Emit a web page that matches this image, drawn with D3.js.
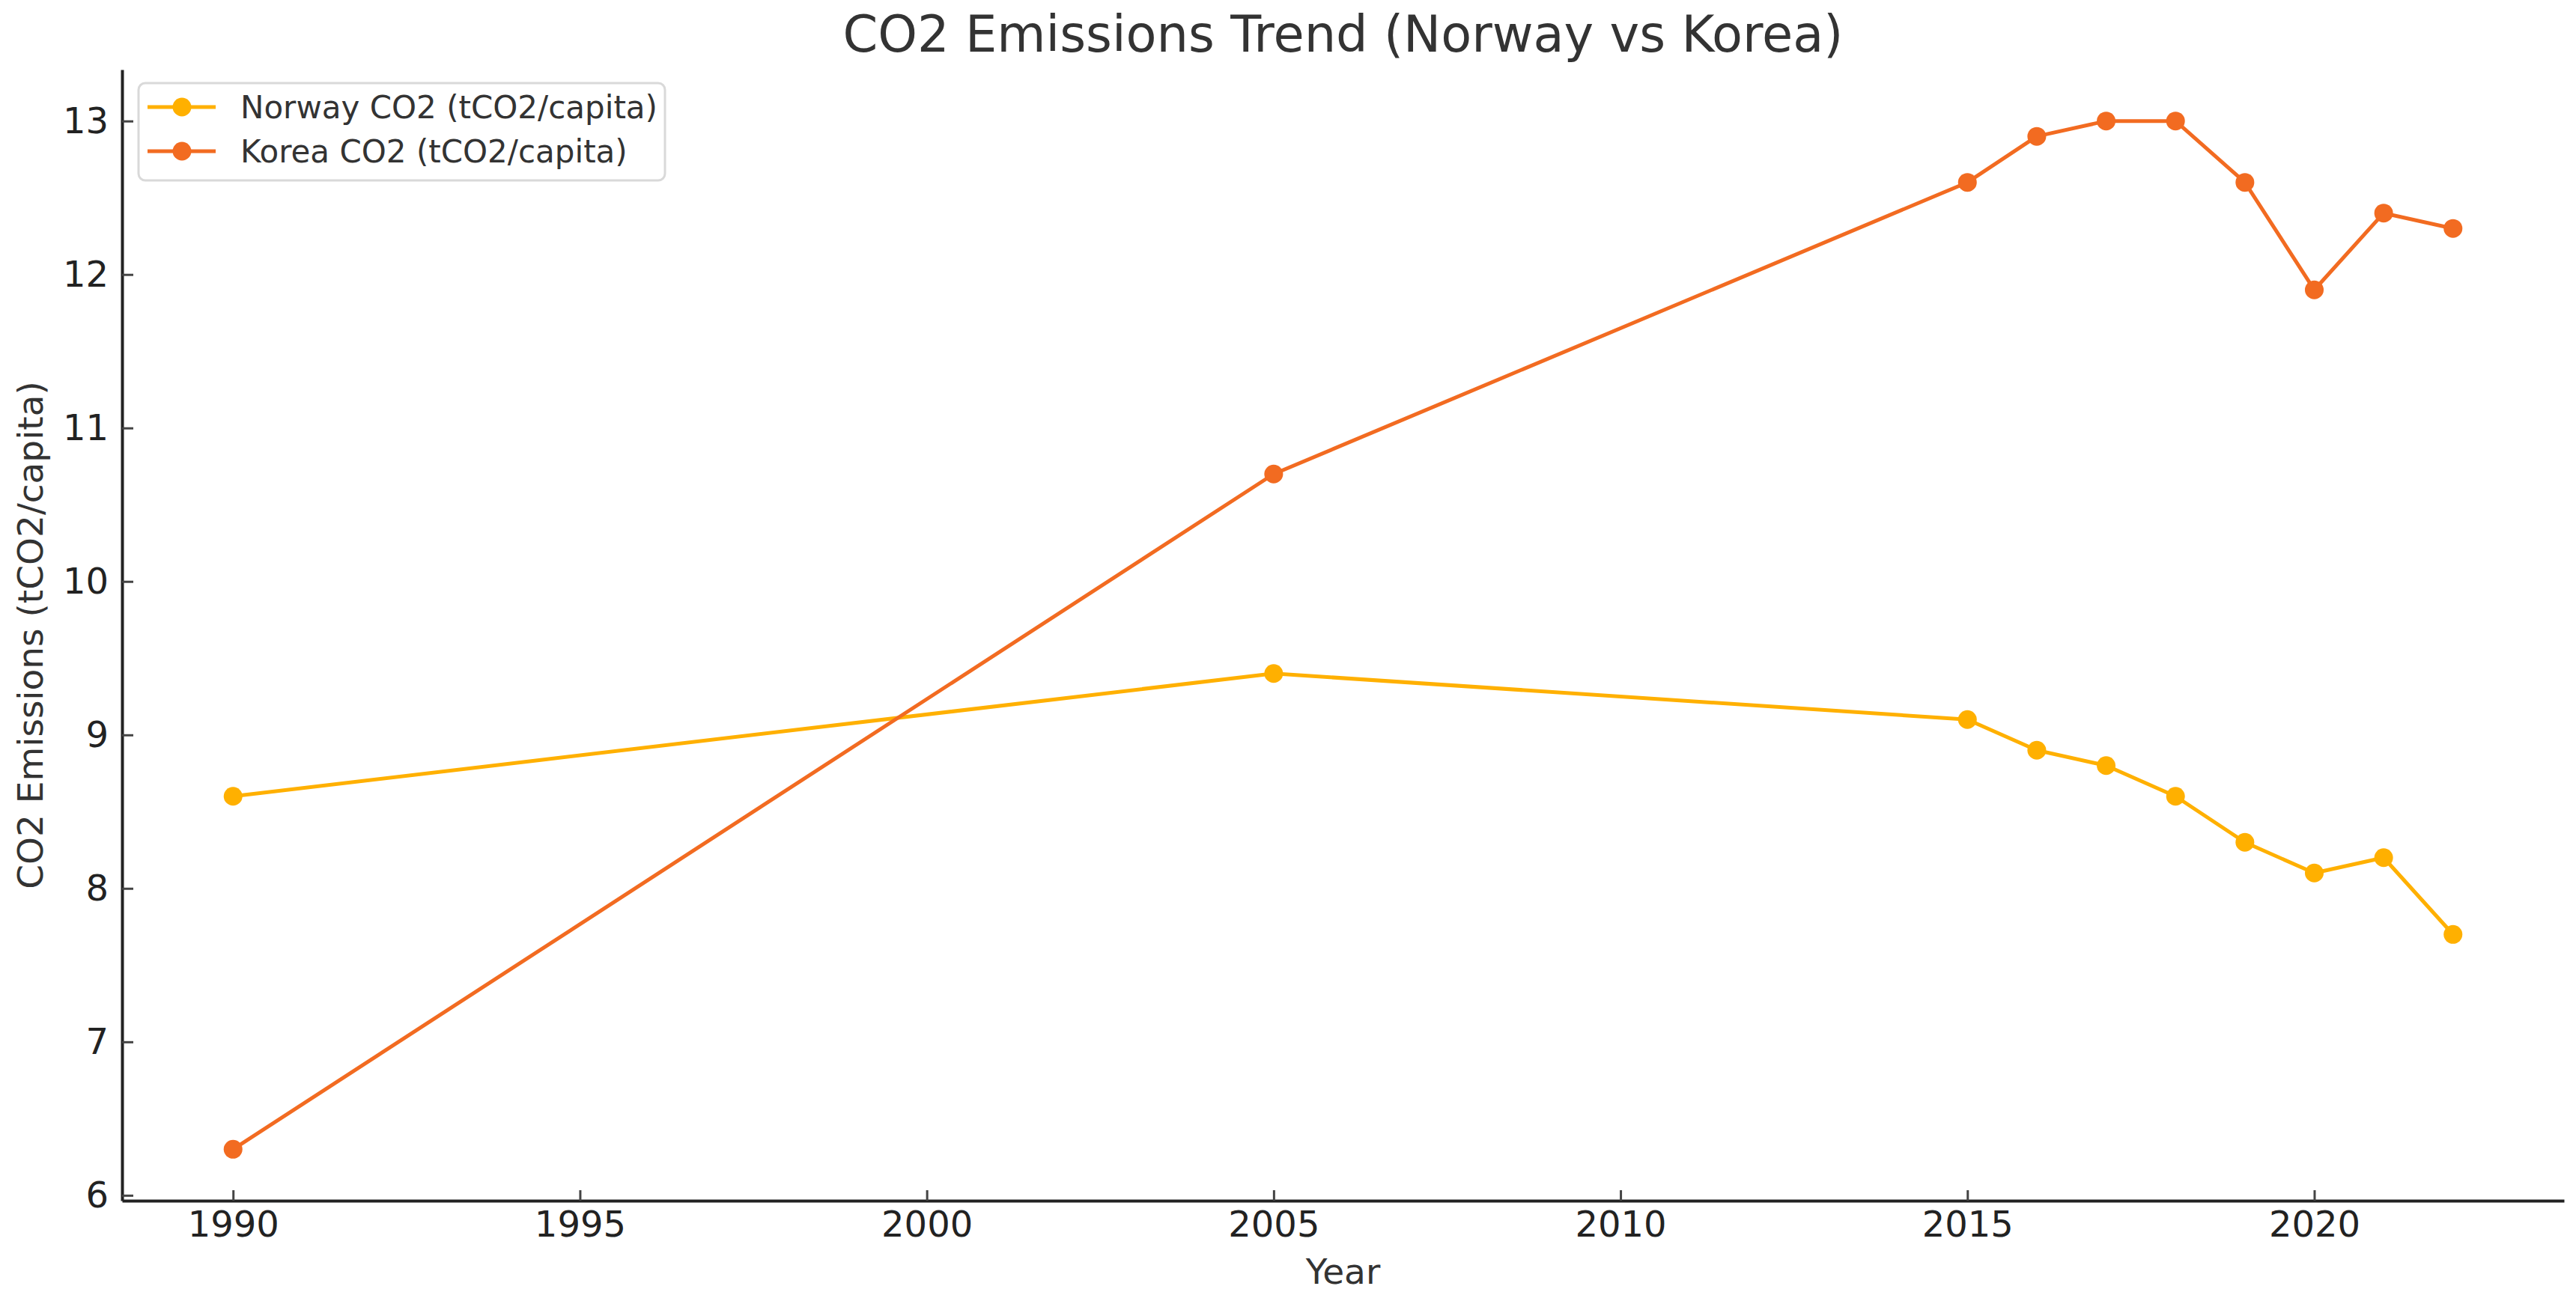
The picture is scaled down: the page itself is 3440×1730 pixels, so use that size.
<!DOCTYPE html>
<meta charset="utf-8">
<head>
  <script src="https://d3js.org/d3.v7.min.js"></script>
  <style>
    body { margin: 0; background: #fff; }
    svg { display: block; font-family: "DejaVu Sans", sans-serif; }
  </style>
</head>
<body>
<div id="chart"></div>
<script>

// data
var years = [1990, 2005, 2015, 2016, 2017, 2018, 2019, 2020, 2021, 2022];
var norway = [8.6, 9.4, 9.1, 8.9, 8.8, 8.6, 8.3, 8.1, 8.2, 7.7];
var korea = [6.3, 10.7, 12.6, 12.9, 13.0, 13.0, 12.6, 11.9, 12.4, 12.3];
var xTicks = [1990, 1995, 2000, 2005, 2010, 2015, 2020];
var yTicks = [6, 7, 8, 9, 10, 11, 12, 13];
var seriesNames = ["Norway CO2 (tCO2/capita)", "Korea CO2 (tCO2/capita)"];
var seriesColors = ["#ffb000", "#f26b21"];

var W = 3440, H = 1730;
var margin = { top: 93, right: 16, bottom: 126, left: 163 };

var svg = d3.select("#chart")
  .append("svg")
  .attr("width", W)
  .attr("height", H);

svg.append("rect").attr("width", W).attr("height", H).attr("fill", "#fff");

// matplotlib-like 5% padding on each side
var x = d3.scaleLinear()
  .domain([1988.4, 2023.6])
  .range([margin.left, W - margin.right]);

var y = d3.scaleLinear()
  .domain([5.965, 13.335])
  .range([H - margin.bottom, margin.top]);

// X axis (ticks point inward)
var xAxis = svg.append("g")
  .attr("transform", "translate(0," + (H - margin.bottom) + ")")
  .call(d3.axisBottom(x).tickValues(xTicks).tickFormat(d3.format("d"))
    .tickSizeInner(-14).tickSizeOuter(0).tickPadding(14));

// Y axis
var yAxis = svg.append("g")
  .attr("transform", "translate(" + margin.left + ",0)")
  .call(d3.axisLeft(y).tickValues(yTicks).tickFormat(d3.format("d"))
    .tickSizeInner(-15).tickSizeOuter(0).tickPadding(18));

[xAxis, yAxis].forEach(function (g) {
  g.select(".domain").attr("stroke", "#222").attr("stroke-width", 4);
  g.selectAll(".tick line").attr("stroke", "#444").attr("stroke-width", 3);
  g.selectAll(".tick text")
    .attr("fill", "#222")
    .style("font-size", "48px")
    .style("font-family", "DejaVu Sans");
});

// Lines + markers
var series = [norway, korea];
series.forEach(function (vals, i) {
  var pts = years.map(function (yr, j) { return { year: yr, v: vals[j] }; });

  var line = d3.line()
    .x(function (d) { return x(d.year); })
    .y(function (d) { return y(d.v); });

  svg.append("path")
    .datum(pts)
    .attr("fill", "none")
    .attr("stroke", seriesColors[i])
    .attr("stroke-width", 5)
    .attr("stroke-linejoin", "round")
    .attr("d", line);

  svg.selectAll("circle.s" + i)
    .data(pts)
    .enter()
    .append("circle")
    .attr("class", "s" + i)
    .attr("cx", function (d) { return x(d.year); })
    .attr("cy", function (d) { return y(d.v); })
    .attr("r", 12.5)
    .attr("fill", seriesColors[i]);
});

// Title
svg.append("text")
  .attr("x", (margin.left + W - margin.right) / 2)
  .attr("y", 69)
  .attr("text-anchor", "middle")
  .attr("fill", "#333")
  .style("font-size", "67px")
  .text("CO2 Emissions Trend (Norway vs Korea)");

// Axis labels
svg.append("text")
  .attr("x", (margin.left + W - margin.right) / 2)
  .attr("y", 1715)
  .attr("text-anchor", "middle")
  .attr("fill", "#333")
  .style("font-size", "47px")
  .text("Year");

svg.append("text")
  .attr("transform", "translate(57," + ((margin.top + H - margin.bottom) / 2) + ")rotate(-90)")
  .attr("text-anchor", "middle")
  .attr("fill", "#333")
  .style("font-size", "47px")
  .text("CO2 Emissions (tCO2/capita)");

// Legend
var legend = svg.append("g").attr("transform", "translate(185,111)");

legend.append("rect")
  .attr("width", 703)
  .attr("height", 130)
  .attr("rx", 9)
  .attr("fill", "#fff")
  .attr("stroke", "#d9d9d9")
  .attr("stroke-width", 3);

seriesNames.forEach(function (name, i) {
  var cy = 32 + i * 59;
  legend.append("line")
    .attr("x1", 12).attr("x2", 103)
    .attr("y1", cy).attr("y2", cy)
    .attr("stroke", seriesColors[i])
    .attr("stroke-width", 5);
  legend.append("circle")
    .attr("cx", 58).attr("cy", cy).attr("r", 12.5)
    .attr("fill", seriesColors[i]);
  legend.append("text")
    .attr("x", 136)
    .attr("y", cy + 15)
    .attr("fill", "#333")
    .style("font-size", "42px")
    .text(name);
});

</script>
</body>
